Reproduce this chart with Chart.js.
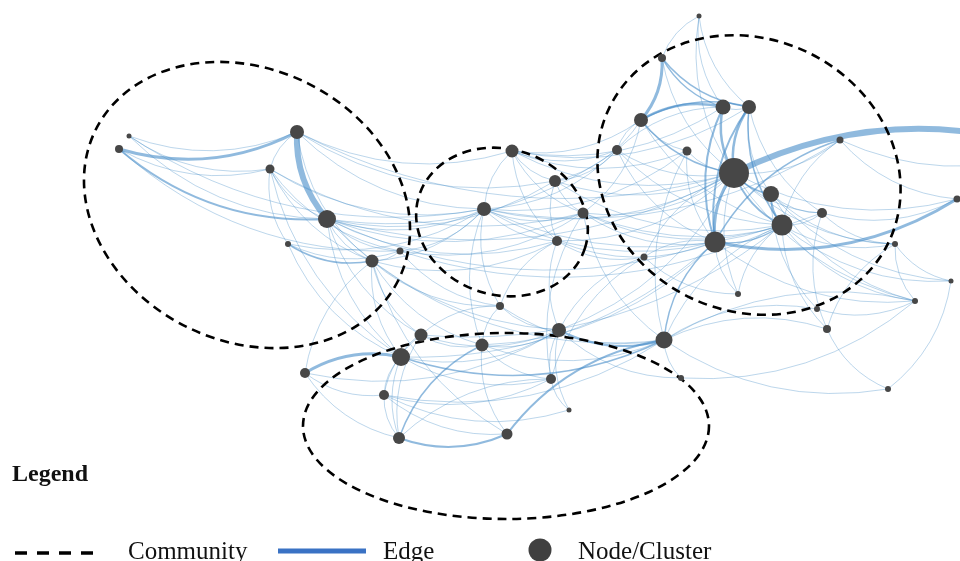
<!DOCTYPE html>
<html>
<head>
<meta charset="utf-8">
<script src="https://cdn.jsdelivr.net/npm/chart.js@4.4.1/dist/chart.umd.min.js"></script>
<style>
  html, body { margin: 0; padding: 0; background: #ffffff; }
  #wrap { position: relative; width: 960px; height: 561px; overflow: hidden; background: #fff; }
  #c { position: absolute; left: 0; top: 0; }
  .lg { position: absolute; color: #111; font-family: "Liberation Serif", "Times New Roman", serif; white-space: nowrap; }
  #lgTitle { left: 12px; top: 461px; font-size: 24px; line-height: 24px; font-weight: bold; }
  .lbl { top: 538px; font-size: 25px; line-height: 25px; }
</style>
</head>
<body>
<div id="wrap">
  <canvas id="c" width="960" height="561"></canvas>
  <div class="lg" id="lgTitle">Legend</div>
  <div class="lg lbl" style="left:128px">Community</div>
  <div class="lg lbl" style="left:383px">Edge</div>
  <div class="lg lbl" style="left:578px">Node/Cluster</div>
</div>
<script>
// ---- Node layout (layout coordinates) and node weights (drawn radius) ----
const nodeX = [119,129,297,270,327,288,372,400, 512,555,484,583,557,500,
  699,662,723,749,641,617,687,734,840,771,782,822,715,644,738,895,957,817,827,915,888,951,
  421,401,305,482,559,664,384,551,681,569,399,507, 1050];
const nodeY = [149,136,132,169,219,244,261,251, 151,181,209,213,241,306,
  16,58,107,107,120,150,151,173,140,194,225,213,242,257,294,244,199,309,329,301,389,281,
  335,357,373,345,330,340,395,379,378,410,438,434, 150];
const nodeSize = [4,2.5,7,4.5,9,3,6.5,3.5, 6.5,6,7,5.5,5,4,
  2.5,4,7.5,7,7,5,4.5,15,3.5,8,10.5,5,10.5,3.5,3,3,3.5,3,4,3,3,2.5,
  6.5,9,5,6.5,7,8.5,5,5,3,2.5,6,5.5, 0];

// ---- Edges: [source, target, weight] ----
const edges = [
  [0,2,3],[0,4,2],[1,2,1],[1,3,1],[0,3,1],[1,4,1],[0,7,1],[1,10,1],
  [2,4,6],[2,3,1],[2,8,1],[2,10,1],[2,9,1],[2,21,1],[2,6,1],
  [3,4,1],[3,6,1],[3,10,1],[3,11,1],[3,5,1],[3,7,1],[3,37,1],
  [4,10,1],[4,11,1],[4,12,1],[4,6,1],[4,7,1],[4,9,1],[4,37,1],[4,40,1],[4,21,1],[4,26,1],[4,36,1],[4,19,1],
  [5,6,1.5],[5,7,1],[5,10,1],[5,37,1],
  [6,7,1],[6,36,1],[6,37,1],[6,39,1],[6,10,1],[6,13,1],[6,38,1],[6,12,1],[6,41,1],[6,47,1],
  [7,10,1],[7,11,1],[7,24,1],[7,13,1],
  [8,10,1],[8,9,1],[8,11,1],[8,12,1],[8,19,1],[8,21,1],[8,18,1],[8,16,1],[8,17,1],[8,20,1],
  [9,21,1],[9,12,1],[9,11,1],[9,18,1],[9,19,1],[9,24,1],
  [10,11,1],[10,12,1],[10,13,1],[10,21,1],[10,19,1],[10,24,1],[10,26,1],[10,39,1],[10,22,1],[10,20,1],
  [11,21,1],[11,24,1],[11,26,1],[11,18,1],[11,41,1],[11,43,1],[11,25,1],
  [12,13,1],[12,40,1],[12,21,1],[12,26,1],[12,27,1],
  [13,39,1],[13,36,1],[13,40,1],[13,41,1],
  [14,15,1],[14,16,1],[14,17,1],[14,21,1],
  [18,15,3],[15,16,1.5],[15,17,1.5],[15,21,1],
  [16,18,2.5],[16,21,2.5],[16,17,1],[16,26,2],[16,19,1],
  [17,21,2.5],[17,23,1],[17,24,1.5],[17,26,2],[17,18,1.5],[17,25,1],
  [18,19,1],[18,21,1.5],[18,20,1],[18,24,1],
  [19,21,1],[19,26,1],[19,24,1],
  [20,21,1],[20,26,1],[20,41,1],
  [48,21,6],[21,23,2],[21,24,2],[21,26,3],[21,25,1],[21,22,1],[21,27,1],[21,28,1],[21,29,1],[21,30,1],[21,33,1],
  [22,26,1.5],[22,30,1],[22,48,1],[22,24,1],
  [23,24,2],[23,25,1],[23,29,1],[23,33,1],[23,31,1],[23,35,1],
  [24,25,1],[24,29,1],[24,33,1],[24,32,1],[24,28,1],[24,35,1],[24,41,1],
  [25,29,1],[25,32,1],[25,30,1],
  [26,30,3],[26,27,1],[26,28,1],[26,41,1.5],[26,24,1.5],[26,33,1],
  [27,40,1],[27,43,1],[27,28,1],
  [29,33,1],[29,32,1],[29,35,1],
  [31,33,1],[32,34,1],[34,35,1],[32,41,1],[31,41,1],[33,41,1],
  [36,37,1],[36,39,1],[36,42,1],[36,46,1],[36,40,1],[36,24,1],
  [37,38,3],[37,41,1.5],[37,40,1],[37,46,1],[37,42,1],[37,43,1],[37,26,1],
  [38,42,1],[38,46,1],[38,40,1],
  [39,46,1.5],[39,40,1],[39,41,1],[39,43,1],[39,47,1],[39,26,1],
  [40,41,2],[40,43,1],[40,44,1],[40,45,1],[40,21,1],
  [41,47,2],[41,44,1],[41,34,1],
  [42,46,1],[42,43,1],[42,47,1],[42,45,1],[42,41,1],
  [43,45,1],[43,46,1],
  [46,47,2],[44,33,1]
];

// ---- Communities: centre, semi-axes, tilt ----
const commCX = [247, 502, 749, 506];
const commCY = [205, 222, 175, 426];
const commRX = [169, 87, 155, 203];
const commRY = [136, 73, 136, 93];
const commTilt = [0.46, 0.3, 0.45, 0];

const EDGE_CURVE = 0.2;

const networkPlugin = {
  id: 'network',
  beforeDatasetsDraw(chart) {
    const ctx = chart.ctx;
    const xs = chart.scales.x, ys = chart.scales.y;
    ctx.save();
    ctx.lineCap = 'round';
    edges.forEach(([a, b, w]) => {
      const x1 = xs.getPixelForValue(nodeX[a]), y1 = ys.getPixelForValue(nodeY[a]);
      const x2 = xs.getPixelForValue(nodeX[b]), y2 = ys.getPixelForValue(nodeY[b]);
      const dx = x2 - x1, dy = y2 - y1;
      const cx = (x1 + x2) / 2 - dy * EDGE_CURVE;
      const cy = (y1 + y2) / 2 + dx * EDGE_CURVE;
      const alpha = w > 1.2 ? 0.6 : 0.38;
      ctx.strokeStyle = 'rgba(70,140,200,' + alpha + ')';
      ctx.lineWidth = w > 1.2 ? w : 0.95;
      ctx.beginPath();
      ctx.moveTo(x1, y1);
      ctx.quadraticCurveTo(cx, cy, x2, y2);
      ctx.stroke();
    });
    // community outlines
    ctx.strokeStyle = '#000';
    ctx.lineWidth = 2.6;
    ctx.lineCap = 'butt';
    ctx.setLineDash([9, 6]);
    for (let i = 0; i < commCX.length; i++) {
      const cx = xs.getPixelForValue(commCX[i]);
      const cy = ys.getPixelForValue(commCY[i]);
      const rx = Math.abs(xs.getPixelForValue(commCX[i] + commRX[i]) - cx);
      const ry = Math.abs(ys.getPixelForValue(commCY[i] + commRY[i]) - cy);
      ctx.beginPath();
      ctx.ellipse(cx, cy, rx, ry, commTilt[i], 0, Math.PI * 2);
      ctx.stroke();
    }
    ctx.restore();
  },
  afterDraw(chart) {
    const ctx = chart.ctx;
    ctx.save();
    // legend symbols
    ctx.strokeStyle = '#000';
    ctx.lineWidth = 3.5;
    ctx.setLineDash([12, 10]);
    ctx.beginPath(); ctx.moveTo(15, 553); ctx.lineTo(95, 553); ctx.stroke();
    ctx.setLineDash([]);
    ctx.strokeStyle = '#3a72c4';
    ctx.lineWidth = 5;
    ctx.beginPath(); ctx.moveTo(278, 551); ctx.lineTo(366, 551); ctx.stroke();
    ctx.fillStyle = '#404040';
    ctx.beginPath(); ctx.arc(540, 550, 11.5, 0, Math.PI * 2); ctx.fill();
    ctx.restore();
  }
};

new Chart(document.getElementById('c'), {
  type: 'scatter',
  data: {
    datasets: [{
      label: 'Node/Cluster',
      data: nodeX.map((x, i) => ({ x: x, y: nodeY[i] })),
      pointRadius: nodeSize,
      pointHoverRadius: nodeSize,
      pointBackgroundColor: '#474747',
      pointBorderWidth: 0,
      showLine: false
    }]
  },
  options: {
    responsive: false,
    animation: false,
    layout: { padding: 0, autoPadding: false },
    scales: {
      x: { type: 'linear', min: 0, max: 960, display: false },
      y: { type: 'linear', min: 0, max: 561, reverse: true, display: false }
    },
    plugins: { legend: { display: false }, tooltip: { enabled: false } }
  },
  plugins: [networkPlugin]
});
</script>
</body>
</html>
